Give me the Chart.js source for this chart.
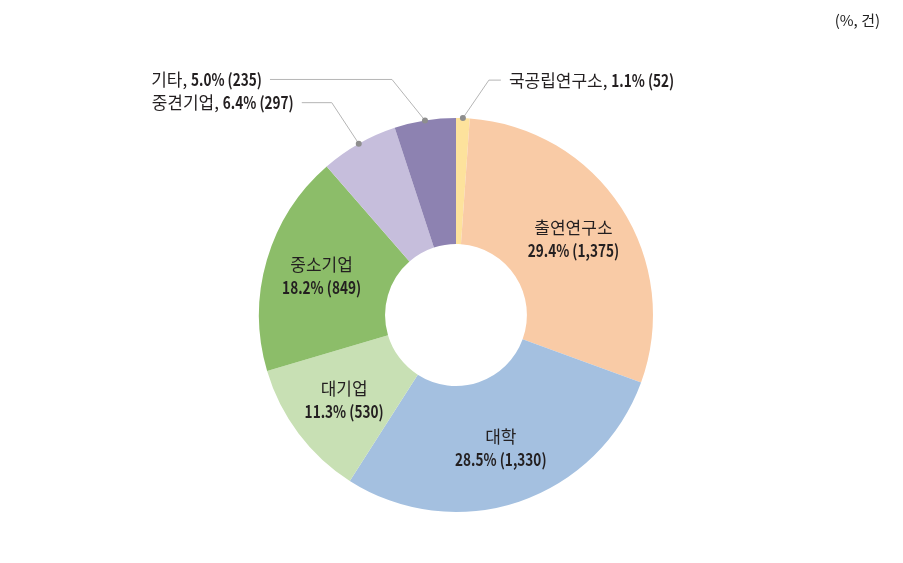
<!DOCTYPE html>
<html>
<head>
<meta charset="utf-8">
<script src="https://cdn.jsdelivr.net/npm/chart.js@4.4.1/dist/chart.umd.min.js"></script>
<style>
  body { margin: 0; background: #fff; }
  #wrap { width: 903px; height: 563px; }
</style>
</head>
<body>
<div id="wrap"><canvas id="myChart" width="903" height="563"></canvas></div>
<script>
// data (clockwise from 12 o'clock)
var labels = ['국공립연구소', '출연연구소', '대학', '대기업', '중소기업', '중견기업', '기타'];
var counts = [52, 1375, 1330, 530, 849, 297, 235];
var pcts = ['1.1', '29.4', '28.5', '11.3', '18.2', '6.4', '5.0'];
var colors = ['#FDE29C', '#F9CBA6', '#A4C0E0', '#C8E0B4', '#8CBD69', '#C6BEDC', '#8D82B1'];
var unitText = '(%, 건)';

// which slices get a callout outside the ring, the rest are labelled inside
var callouts = {
  0: { dx: 26, dy: -38, run: 12, side: 'right' },
  5: { dx: -27, dy: -41, run: -30, side: 'left' },
  6: { dx: -33, dy: -41, run: -122, side: 'left' }
};

var FONT = '"Noto Sans CJK KR", sans-serif';
var NUM_SX = 0.8; // numbers in the original are condensed

// draw text squeezed horizontally, x is the left edge
function squeezed(ctx, text, x, y, sx) {
  ctx.save();
  ctx.translate(x, y);
  ctx.scale(sx, 1);
  ctx.textAlign = 'left';
  ctx.fillText(text, 0, 0);
  ctx.restore();
}

var labelPlugin = {
  id: 'sliceLabels',
  afterDatasetsDraw: function(chart) {
    var ctx = chart.ctx;
    var meta = chart.getDatasetMeta(0);
    ctx.save();
    ctx.fillStyle = '#231f20';
    ctx.textBaseline = 'middle';

    meta.data.forEach(function(arc, i) {
      var p = arc.getProps(['x', 'y', 'startAngle', 'endAngle', 'innerRadius', 'outerRadius'], true);
      var mid = (p.startAngle + p.endAngle) / 2;
      var co = callouts[i];
      var numText = pcts[i] + '% (' + counts[i].toLocaleString('en-US') + ')';

      if (!co) {
        var r = (p.innerRadius + p.outerRadius) / 2 + 6;
        var cx = p.x + Math.cos(mid) * r;
        var cy = p.y + Math.sin(mid) * r;
        ctx.textAlign = 'center';
        ctx.font = '400 17px ' + FONT;
        ctx.fillText(labels[i], cx, cy - 11);
        ctx.font = '700 17px ' + FONT;
        var nw = ctx.measureText(numText).width * NUM_SX;
        squeezed(ctx, numText, cx - nw / 2, cy + 12, NUM_SX);
        return;
      }

      // dot on the outer edge + elbow line
      var dx = p.x + Math.cos(mid) * p.outerRadius;
      var dy = p.y + Math.sin(mid) * p.outerRadius;
      var ex = dx + co.dx, ey = dy + co.dy;
      var tx = ex + co.run;
      ctx.strokeStyle = '#b5b5b5';
      ctx.lineWidth = 1;
      ctx.beginPath();
      ctx.moveTo(dx, dy);
      ctx.lineTo(ex, ey);
      ctx.lineTo(tx, ey);
      ctx.stroke();
      ctx.fillStyle = '#8e8e8e';
      ctx.beginPath();
      ctx.arc(dx, dy, 3, 0, Math.PI * 2);
      ctx.fill();

      ctx.fillStyle = '#231f20';
      var part1 = labels[i] + ', ';
      ctx.font = '400 17px ' + FONT;
      var w1 = ctx.measureText(part1).width;
      ctx.font = '700 17px ' + FONT;
      var w2 = ctx.measureText(numText).width * NUM_SX;
      var startX = co.side === 'right' ? tx + 8 : tx - 8 - w1 - w2;
      ctx.textAlign = 'left';
      ctx.font = '400 17px ' + FONT;
      ctx.fillText(part1, startX, ey);
      ctx.font = '700 17px ' + FONT;
      squeezed(ctx, numText, startX + w1, ey, NUM_SX);
    });

    // unit note, top right
    ctx.font = '400 15px ' + FONT;
    ctx.textAlign = 'right';
    ctx.fillStyle = '#222';
    ctx.fillText(unitText, 880, 20);
    ctx.restore();
  }
};

new Chart(document.getElementById('myChart'), {
  type: 'doughnut',
  data: {
    labels: labels,
    datasets: [{
      data: counts,
      backgroundColor: colors,
      borderWidth: 0
    }]
  },
  options: {
    responsive: false,
    animation: false,
    cutout: '36%',
    layout: { padding: { top: 118, bottom: 51, left: 100, right: 91 } },
    plugins: {
      legend: { display: false },
      tooltip: { enabled: false }
    }
  },
  plugins: [labelPlugin]
});
</script>
</body>
</html>
